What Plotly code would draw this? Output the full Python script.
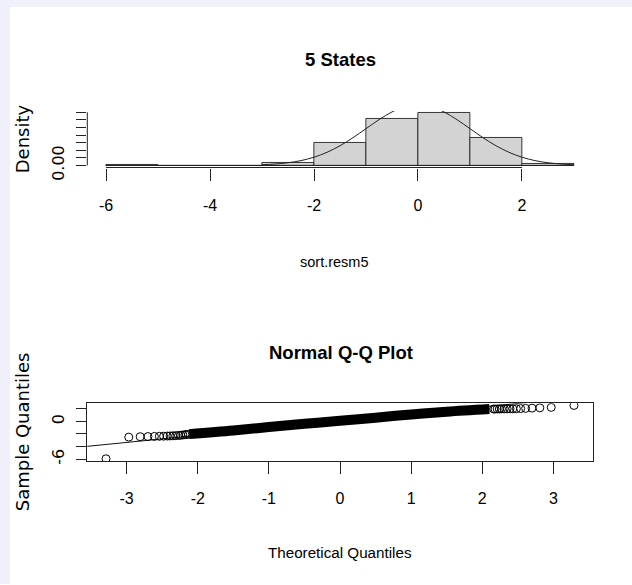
import plotly.graph_objects as go

W, H = 632, 585          # size of the reference picture
H_LAYOUT = 597           # layout height (viewport is mapped onto the 585-px picture)

# ---------------- data: histogram of sort.resm5 ----------------
bin_edges = [-6, -5, -4, -3, -2, -1, 0, 1, 2, 3]
bin_density = [0.001, 0.0, 0.0, 0.016, 0.145, 0.305, 0.345, 0.18, 0.009]

# overlaid normal density curve
curve_x = [-3.0, -2.75, -2.5, -2.25, -2.0, -1.75, -1.5, -1.25, -1.0, -0.75, -0.5, -0.25, 0.0,
           0.25, 0.5, 0.75, 1.0, 1.25, 1.5, 1.75, 2.0, 2.25, 2.5, 2.75, 3.0]
curve_y = [0.0044, 0.0091, 0.0175, 0.0317, 0.0540, 0.0863, 0.1295, 0.1826, 0.2420, 0.3011, 0.3521, 0.3867, 0.3989,
           0.3867, 0.3521, 0.3011, 0.2420, 0.1826, 0.1295, 0.0863, 0.0540, 0.0317, 0.0175, 0.0091, 0.0044]

hist_xticks = [-6, -4, -2, 0, 2]
hist_xticklabels = ["-6", "-4", "-2", "0", "2"]
hist_yticks = [0.0, 0.05, 0.10, 0.15, 0.20, 0.25, 0.30, 0.35]
hist_yticklabels = ["0.00", "", "", "", "", "", "", ""]

# ---------------- data: normal Q-Q plot ----------------
# individually visible points (tails)
qq_tail_x = [-3.29, -2.97, -2.81, -2.70, -2.61, -2.54, -2.48, -2.43, -2.39, -2.35, -2.31, -2.27, -2.24,
             -2.21, -2.18, -2.16, -2.13,
             2.16, 2.18, 2.21, 2.24, 2.27, 2.31, 2.35, 2.39, 2.43, 2.48, 2.54, 2.61, 2.70, 2.81, 2.97, 3.29]
qq_tail_y = [-5.95, -2.50, -2.43, -2.41, -2.39, -2.37, -2.35, -2.33, -2.31, -2.29, -2.26, -2.23, -2.20,
             -2.16, -2.12, -2.08, -2.05,
             1.98, 1.98, 1.99, 1.99, 2.00, 2.00, 2.01, 2.01, 2.02, 2.03, 2.05, 2.08, 2.12, 2.17, 2.24, 2.55]
# dense central run of points (overlapping circles form a solid band)
qq_band_x = [-2.12, -1.50, -1.00, -0.50, 0.00, 0.50, 1.00, 1.50, 2.10]
qq_band_y = [-2.02, -1.45, -0.90, -0.38, 0.10, 0.60, 1.12, 1.55, 1.97]
# qqline
qq_line_x = [-3.6, 3.6]
qq_line_y = [-4.02, 4.12]

qq_xticks = [-3, -2, -1, 0, 1, 2, 3]
qq_xticklabels = ["-3", "-2", "-1", "0", "1", "2", "3"]
qq_yticks = [-6, -4, -2, 0, 2]
qq_yticklabels = ["-6", "", "", "0", ""]


def r_range(lo, hi):
    d = hi - lo
    return [lo - 0.04 * d, hi + 0.04 * d]


FONT_H = "Liberation Sans, Arial, sans-serif"
FONT_V = "DejaVu Sans, sans-serif"

fig = go.Figure()

centers = [(a + b) / 2 for a, b in zip(bin_edges[:-1], bin_edges[1:])]
widths = [b - a for a, b in zip(bin_edges[:-1], bin_edges[1:])]
fig.add_trace(go.Bar(x=centers, y=bin_density, width=widths,
                     marker=dict(color="#d3d3d3", line=dict(color="#222222", width=0.9)),
                     xaxis="x", yaxis="y"))
fig.add_trace(go.Scatter(x=[bin_edges[0], bin_edges[-1]], y=[0, 0], mode="lines",
                         line=dict(color="#222222", width=1), xaxis="x", yaxis="y"))
fig.add_trace(go.Scatter(x=curve_x, y=curve_y, mode="lines",
                         line=dict(color="#222222", width=1, shape="spline"), xaxis="x", yaxis="y"))

fig.add_trace(go.Scatter(x=qq_line_x, y=qq_line_y, mode="lines",
                         line=dict(color="#111111", width=1), xaxis="x2", yaxis="y2"))
fig.add_trace(go.Scatter(x=qq_band_x, y=qq_band_y, mode="lines",
                         line=dict(color="#000000", width=10, shape="spline"), xaxis="x2", yaxis="y2"))
fig.add_trace(go.Scatter(x=qq_tail_x, y=qq_tail_y, mode="markers",
                         marker=dict(symbol="circle-open", size=8, color="#000000", line=dict(width=1)),
                         xaxis="x2", yaxis="y2"))

hx = r_range(bin_edges[0], bin_edges[-1])
hy = r_range(0, max(bin_density))
qx = r_range(min(qq_tail_x), max(qq_tail_x))
qy = r_range(min(qq_tail_y), max(qq_tail_y))

xdom = [87.3 / W, 592.7 / W]
ydom_top = [(H - 167.8) / H, (H - 111.1) / H]
ydom_bot = [(H - 461.7) / H, (H - 404.0) / H]

axis_common = dict(showgrid=False, zeroline=False, ticks="outside", tickcolor="#222222",
                   tickwidth=1, fixedrange=True)

fig.update_layout(
    width=W, height=H_LAYOUT,
    margin=dict(l=0, r=0, t=0, b=0),
    paper_bgcolor="white", plot_bgcolor="white",
    showlegend=False, hovermode=False, bargap=0,
    xaxis=dict(domain=xdom, anchor="y", range=hx, tickvals=hist_xticks, ticktext=hist_xticklabels,
               ticklen=12, showline=False, ticklabelstandoff=11,
               tickfont=dict(family=FONT_H, size=16, color="black"), **axis_common),
    yaxis=dict(domain=ydom_top, anchor="x", range=hy, tickvals=hist_yticks, ticktext=hist_yticklabels,
               ticklen=10, showline=False, tickangle=-90, ticklabelstandoff=6,
               tickfont=dict(family=FONT_V, size=16, color="black"), **axis_common),
    xaxis2=dict(domain=xdom, anchor="y2", range=qx, tickvals=qq_xticks, ticktext=qq_xticklabels,
                ticklen=12, showline=True, mirror=True, linecolor="#222222", linewidth=1,
                ticklabelstandoff=11,
                tickfont=dict(family=FONT_H, size=16, color="black"), **axis_common),
    yaxis2=dict(domain=ydom_bot, anchor="x2", range=qy, tickvals=qq_yticks, ticktext=qq_yticklabels,
                ticklen=10, showline=True, mirror=True, linecolor="#222222", linewidth=1,
                tickangle=-90, ticklabelstandoff=6,
                tickfont=dict(family=FONT_V, size=16, color="black"), **axis_common),
)

# R-style partial axis lines for the histogram panel
fig.add_shape(type="line", xref="x", yref="y domain", x0=hist_xticks[0], x1=hist_xticks[-1], y0=0, y1=0,
              line=dict(color="#222222", width=1))
fig.add_shape(type="line", xref="x domain", yref="y", x0=0, x1=0, y0=hist_yticks[0], y1=hist_yticks[-1],
              line=dict(color="#222222", width=1))

# lavender window edges
fig.add_shape(type="rect", xref="paper", yref="paper", x0=0, x1=10 / W, y0=0, y1=1,
              line=dict(width=0), fillcolor="#f0f0fb", layer="below")
fig.add_shape(type="rect", xref="paper", yref="paper", x0=0, x1=1, y0=(H - 7) / H, y1=1,
              line=dict(width=0), fillcolor="#f0f0fb", layer="below")


def ann(text, px, py, font, size, angle=0):
    fig.add_annotation(text=text, x=px / W, y=1 - py / H, xref="paper", yref="paper",
                       xanchor="center", yanchor="middle", showarrow=False, textangle=angle,
                       font=dict(family=font, size=size, color="black"))


ann("<b>5 States</b>", 340, 60, FONT_H, 18.5)
ann("sort.resm5", 334, 262, FONT_H, 14.5)
ann("Density", 22, 139.5, FONT_V, 18, -90)
ann("<b>Normal Q-Q Plot</b>", 341, 353, FONT_H, 18.5)
ann("Theoretical Quantiles", 340, 553, FONT_H, 15.2)
ann("Sample Quantiles", 22, 433, FONT_V, 18, -90)

fig.write_html(
    "out.html",
    config={"displayModeBar": False, "responsive": False},
    post_script=(
        "document.documentElement.style.overflow='hidden';"
        "document.body.style.margin='0px';document.body.style.overflow='hidden';"
        "var gd=document.getElementById('{plot_id}');"
        "gd.style.position='fixed';gd.style.left='0px';gd.style.top='0px';"
    ),
)
